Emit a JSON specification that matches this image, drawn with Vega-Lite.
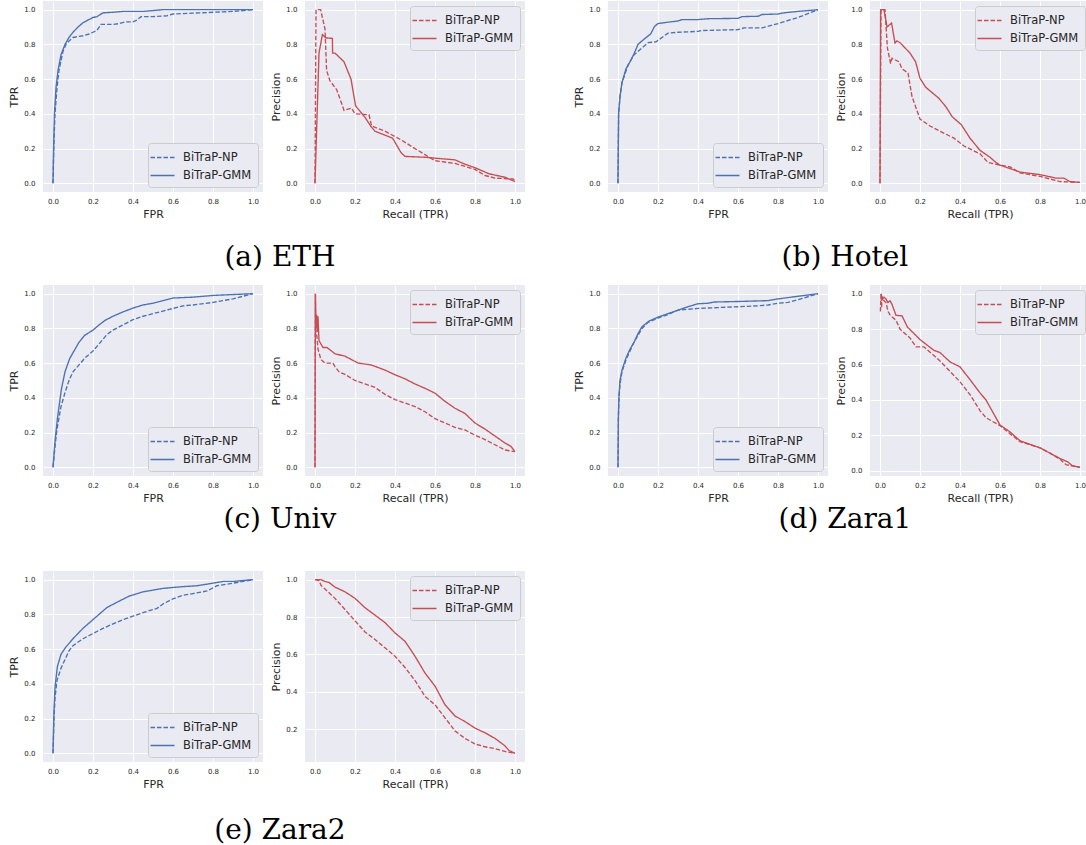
{
"$schema": "https://vega.github.io/schema/vega-lite/v6.json",
"background": "white",
"padding": {"left": 8, "top": 1, "right": 0, "bottom": 0},
"config": {
  "view": {"fill": "#EAEAF2", "stroke": null},
  "axis": {"domain": false, "ticks": false, "grid": true, "gridColor": "#FFFFFF", "gridWidth": 1, "labelFont": "DejaVu Sans", "labelFontSize": 7, "labelColor": "#262626", "titleFont": "DejaVu Sans", "titleFontSize": 11, "titleFontWeight": "normal", "titleColor": "#262626"},
  "axisX": {"labelPadding": 5, "titlePadding": 4},
  "axisY": {"labelPadding": 8, "titlePadding": 4},
  "legend": {"labelFont": "DejaVu Sans", "labelFontSize": 11.5, "labelColor": "#262626", "fillColor": "#EAEAF2", "strokeColor": "#CCCCCC", "cornerRadius": 3, "padding": 6, "offset": 5, "rowPadding": 4, "labelOffset": 12, "symbolStrokeWidth": 1.3},
  "title": {"font": "DejaVu Serif", "fontSize": 28, "fontWeight": "normal", "color": "#000000", "anchor": "middle", "frame": "bounds"},
  "line": {"strokeWidth": 1.35}
},
"datasets": {
"eth_roc": [
{"m":"NP","x":0,"y":0},{"m":"NP","x":0.005,"y":0.25},{"m":"NP","x":0.01,"y":0.4},{"m":"NP","x":0.02,"y":0.55},{"m":"NP","x":0.03,"y":0.65},{"m":"NP","x":0.05,"y":0.76},{"m":"NP","x":0.065,"y":0.8},{"m":"NP","x":0.08,"y":0.82},{"m":"NP","x":0.1,"y":0.84},{"m":"NP","x":0.15,"y":0.85},{"m":"NP","x":0.18,"y":0.86},{"m":"NP","x":0.2,"y":0.87},{"m":"NP","x":0.22,"y":0.88},{"m":"NP","x":0.24,"y":0.915},{"m":"NP","x":0.3,"y":0.915},{"m":"NP","x":0.33,"y":0.92},{"m":"NP","x":0.36,"y":0.93},{"m":"NP","x":0.4,"y":0.93},{"m":"NP","x":0.42,"y":0.94},{"m":"NP","x":0.44,"y":0.96},{"m":"NP","x":0.5,"y":0.96},{"m":"NP","x":0.57,"y":0.965},{"m":"NP","x":0.6,"y":0.975},{"m":"NP","x":0.7,"y":0.98},{"m":"NP","x":0.8,"y":0.985},{"m":"NP","x":0.9,"y":0.99},{"m":"NP","x":1,"y":1},
{"m":"GMM","x":0,"y":0},{"m":"GMM","x":0.003,"y":0.2},{"m":"GMM","x":0.007,"y":0.4},{"m":"GMM","x":0.015,"y":0.55},{"m":"GMM","x":0.025,"y":0.65},{"m":"GMM","x":0.04,"y":0.74},{"m":"GMM","x":0.06,"y":0.8},{"m":"GMM","x":0.08,"y":0.84},{"m":"GMM","x":0.1,"y":0.87},{"m":"GMM","x":0.125,"y":0.9},{"m":"GMM","x":0.15,"y":0.925},{"m":"GMM","x":0.2,"y":0.955},{"m":"GMM","x":0.22,"y":0.96},{"m":"GMM","x":0.25,"y":0.982},{"m":"GMM","x":0.3,"y":0.985},{"m":"GMM","x":0.35,"y":0.99},{"m":"GMM","x":0.45,"y":0.99},{"m":"GMM","x":0.5,"y":0.995},{"m":"GMM","x":0.55,"y":1},{"m":"GMM","x":1,"y":1}
],
"eth_pr": [
{"m":"NP","x":0,"y":0},{"m":"NP","x":0.005,"y":1},{"m":"NP","x":0.028,"y":1},{"m":"NP","x":0.05,"y":0.89},{"m":"NP","x":0.058,"y":0.65},{"m":"NP","x":0.075,"y":0.59},{"m":"NP","x":0.108,"y":0.54},{"m":"NP","x":0.127,"y":0.48},{"m":"NP","x":0.145,"y":0.42},{"m":"NP","x":0.183,"y":0.433},{"m":"NP","x":0.2,"y":0.4},{"m":"NP","x":0.27,"y":0.395},{"m":"NP","x":0.283,"y":0.33},{"m":"NP","x":0.35,"y":0.3},{"m":"NP","x":0.425,"y":0.254},{"m":"NP","x":0.5,"y":0.2},{"m":"NP","x":0.6,"y":0.13},{"m":"NP","x":0.7,"y":0.115},{"m":"NP","x":0.8,"y":0.08},{"m":"NP","x":0.85,"y":0.045},{"m":"NP","x":0.9,"y":0.03},{"m":"NP","x":0.99,"y":0.025},{"m":"NP","x":1,"y":0.015},
{"m":"GMM","x":0,"y":0},{"m":"GMM","x":0.02,"y":0.75},{"m":"GMM","x":0.037,"y":0.856},{"m":"GMM","x":0.055,"y":0.837},{"m":"GMM","x":0.087,"y":0.835},{"m":"GMM","x":0.088,"y":0.75},{"m":"GMM","x":0.1,"y":0.75},{"m":"GMM","x":0.145,"y":0.7},{"m":"GMM","x":0.18,"y":0.6},{"m":"GMM","x":0.203,"y":0.446},{"m":"GMM","x":0.25,"y":0.38},{"m":"GMM","x":0.28,"y":0.327},{"m":"GMM","x":0.3,"y":0.3},{"m":"GMM","x":0.388,"y":0.26},{"m":"GMM","x":0.43,"y":0.177},{"m":"GMM","x":0.45,"y":0.155},{"m":"GMM","x":0.55,"y":0.15},{"m":"GMM","x":0.6,"y":0.145},{"m":"GMM","x":0.7,"y":0.135},{"m":"GMM","x":0.75,"y":0.11},{"m":"GMM","x":0.8,"y":0.09},{"m":"GMM","x":0.87,"y":0.055},{"m":"GMM","x":0.95,"y":0.035},{"m":"GMM","x":1,"y":0.01}
],
"hotel_roc": [
{"m":"NP","x":0,"y":0},{"m":"NP","x":0.003,"y":0.4},{"m":"NP","x":0.01,"y":0.5},{"m":"NP","x":0.02,"y":0.58},{"m":"NP","x":0.05,"y":0.68},{"m":"NP","x":0.08,"y":0.74},{"m":"NP","x":0.12,"y":0.78},{"m":"NP","x":0.15,"y":0.81},{"m":"NP","x":0.19,"y":0.815},{"m":"NP","x":0.25,"y":0.865},{"m":"NP","x":0.3,"y":0.87},{"m":"NP","x":0.4,"y":0.875},{"m":"NP","x":0.42,"y":0.88},{"m":"NP","x":0.6,"y":0.885},{"m":"NP","x":0.63,"y":0.895},{"m":"NP","x":0.72,"y":0.895},{"m":"NP","x":0.8,"y":0.92},{"m":"NP","x":0.9,"y":0.955},{"m":"NP","x":1,"y":1},
{"m":"GMM","x":0,"y":0},{"m":"GMM","x":0.003,"y":0.4},{"m":"GMM","x":0.01,"y":0.5},{"m":"GMM","x":0.02,"y":0.58},{"m":"GMM","x":0.04,"y":0.66},{"m":"GMM","x":0.06,"y":0.7},{"m":"GMM","x":0.08,"y":0.745},{"m":"GMM","x":0.1,"y":0.8},{"m":"GMM","x":0.13,"y":0.83},{"m":"GMM","x":0.163,"y":0.86},{"m":"GMM","x":0.183,"y":0.904},{"m":"GMM","x":0.2,"y":0.92},{"m":"GMM","x":0.25,"y":0.928},{"m":"GMM","x":0.3,"y":0.935},{"m":"GMM","x":0.32,"y":0.943},{"m":"GMM","x":0.4,"y":0.943},{"m":"GMM","x":0.45,"y":0.948},{"m":"GMM","x":0.6,"y":0.95},{"m":"GMM","x":0.62,"y":0.96},{"m":"GMM","x":0.7,"y":0.962},{"m":"GMM","x":0.72,"y":0.972},{"m":"GMM","x":0.8,"y":0.975},{"m":"GMM","x":0.83,"y":0.982},{"m":"GMM","x":0.9,"y":0.99},{"m":"GMM","x":1,"y":1}
],
"hotel_pr": [
{"m":"NP","x":0,"y":0},{"m":"NP","x":0.005,"y":1},{"m":"NP","x":0.025,"y":1},{"m":"NP","x":0.037,"y":0.78},{"m":"NP","x":0.053,"y":0.69},{"m":"NP","x":0.06,"y":0.72},{"m":"NP","x":0.095,"y":0.7},{"m":"NP","x":0.11,"y":0.66},{"m":"NP","x":0.14,"y":0.635},{"m":"NP","x":0.16,"y":0.5},{"m":"NP","x":0.2,"y":0.37},{"m":"NP","x":0.25,"y":0.33},{"m":"NP","x":0.3,"y":0.3},{"m":"NP","x":0.37,"y":0.26},{"m":"NP","x":0.42,"y":0.215},{"m":"NP","x":0.5,"y":0.17},{"m":"NP","x":0.54,"y":0.12},{"m":"NP","x":0.6,"y":0.105},{"m":"NP","x":0.65,"y":0.095},{"m":"NP","x":0.7,"y":0.06},{"m":"NP","x":0.8,"y":0.04},{"m":"NP","x":0.9,"y":0.01},{"m":"NP","x":1,"y":0.005},
{"m":"GMM","x":0,"y":0},{"m":"GMM","x":0.003,"y":1},{"m":"GMM","x":0.02,"y":1},{"m":"GMM","x":0.035,"y":0.9},{"m":"GMM","x":0.058,"y":0.923},{"m":"GMM","x":0.075,"y":0.808},{"m":"GMM","x":0.085,"y":0.82},{"m":"GMM","x":0.1,"y":0.81},{"m":"GMM","x":0.15,"y":0.75},{"m":"GMM","x":0.178,"y":0.7},{"m":"GMM","x":0.2,"y":0.605},{"m":"GMM","x":0.228,"y":0.554},{"m":"GMM","x":0.294,"y":0.49},{"m":"GMM","x":0.33,"y":0.44},{"m":"GMM","x":0.36,"y":0.385},{"m":"GMM","x":0.407,"y":0.337},{"m":"GMM","x":0.45,"y":0.26},{"m":"GMM","x":0.5,"y":0.19},{"m":"GMM","x":0.55,"y":0.15},{"m":"GMM","x":0.58,"y":0.12},{"m":"GMM","x":0.6,"y":0.105},{"m":"GMM","x":0.7,"y":0.065},{"m":"GMM","x":0.8,"y":0.05},{"m":"GMM","x":0.88,"y":0.03},{"m":"GMM","x":0.92,"y":0.03},{"m":"GMM","x":0.95,"y":0.01},{"m":"GMM","x":1,"y":0.005}
],
"univ_roc": [
{"m":"NP","x":0,"y":0},{"m":"NP","x":0.01,"y":0.12},{"m":"NP","x":0.02,"y":0.22},{"m":"NP","x":0.04,"y":0.35},{"m":"NP","x":0.06,"y":0.43},{"m":"NP","x":0.08,"y":0.5},{"m":"NP","x":0.1,"y":0.55},{"m":"NP","x":0.13,"y":0.59},{"m":"NP","x":0.16,"y":0.63},{"m":"NP","x":0.2,"y":0.67},{"m":"NP","x":0.23,"y":0.71},{"m":"NP","x":0.27,"y":0.765},{"m":"NP","x":0.3,"y":0.79},{"m":"NP","x":0.35,"y":0.82},{"m":"NP","x":0.4,"y":0.85},{"m":"NP","x":0.45,"y":0.87},{"m":"NP","x":0.5,"y":0.885},{"m":"NP","x":0.55,"y":0.9},{"m":"NP","x":0.6,"y":0.915},{"m":"NP","x":0.65,"y":0.93},{"m":"NP","x":0.7,"y":0.935},{"m":"NP","x":0.8,"y":0.95},{"m":"NP","x":0.9,"y":0.97},{"m":"NP","x":1,"y":1},
{"m":"GMM","x":0,"y":0},{"m":"GMM","x":0.01,"y":0.15},{"m":"GMM","x":0.022,"y":0.28},{"m":"GMM","x":0.042,"y":0.45},{"m":"GMM","x":0.06,"y":0.55},{"m":"GMM","x":0.083,"y":0.625},{"m":"GMM","x":0.1,"y":0.66},{"m":"GMM","x":0.13,"y":0.72},{"m":"GMM","x":0.158,"y":0.76},{"m":"GMM","x":0.2,"y":0.79},{"m":"GMM","x":0.23,"y":0.82},{"m":"GMM","x":0.26,"y":0.846},{"m":"GMM","x":0.3,"y":0.87},{"m":"GMM","x":0.35,"y":0.895},{"m":"GMM","x":0.4,"y":0.917},{"m":"GMM","x":0.45,"y":0.935},{"m":"GMM","x":0.5,"y":0.945},{"m":"GMM","x":0.55,"y":0.96},{"m":"GMM","x":0.6,"y":0.975},{"m":"GMM","x":0.7,"y":0.98},{"m":"GMM","x":0.8,"y":0.99},{"m":"GMM","x":0.9,"y":0.995},{"m":"GMM","x":1,"y":1}
],
"univ_pr": [
{"m":"NP","x":0,"y":0},{"m":"NP","x":0.002,"y":1},{"m":"NP","x":0.003,"y":0.8},{"m":"NP","x":0.01,"y":0.75},{"m":"NP","x":0.015,"y":0.68},{"m":"NP","x":0.03,"y":0.62},{"m":"NP","x":0.05,"y":0.6},{"m":"NP","x":0.07,"y":0.6},{"m":"NP","x":0.09,"y":0.6},{"m":"NP","x":0.1,"y":0.58},{"m":"NP","x":0.12,"y":0.55},{"m":"NP","x":0.15,"y":0.535},{"m":"NP","x":0.2,"y":0.5},{"m":"NP","x":0.25,"y":0.48},{"m":"NP","x":0.3,"y":0.46},{"m":"NP","x":0.35,"y":0.42},{"m":"NP","x":0.4,"y":0.39},{"m":"NP","x":0.45,"y":0.37},{"m":"NP","x":0.5,"y":0.35},{"m":"NP","x":0.55,"y":0.32},{"m":"NP","x":0.6,"y":0.28},{"m":"NP","x":0.65,"y":0.255},{"m":"NP","x":0.7,"y":0.23},{"m":"NP","x":0.75,"y":0.215},{"m":"NP","x":0.8,"y":0.185},{"m":"NP","x":0.85,"y":0.16},{"m":"NP","x":0.9,"y":0.13},{"m":"NP","x":0.95,"y":0.1},{"m":"NP","x":1,"y":0.09},
{"m":"GMM","x":0,"y":0},{"m":"GMM","x":0.002,"y":1},{"m":"GMM","x":0.005,"y":0.8},{"m":"GMM","x":0.008,"y":0.88},{"m":"GMM","x":0.012,"y":0.78},{"m":"GMM","x":0.015,"y":0.87},{"m":"GMM","x":0.02,"y":0.73},{"m":"GMM","x":0.04,"y":0.69},{"m":"GMM","x":0.06,"y":0.69},{"m":"GMM","x":0.1,"y":0.654},{"m":"GMM","x":0.15,"y":0.64},{"m":"GMM","x":0.2,"y":0.61},{"m":"GMM","x":0.217,"y":0.6},{"m":"GMM","x":0.28,"y":0.59},{"m":"GMM","x":0.35,"y":0.56},{"m":"GMM","x":0.4,"y":0.533},{"m":"GMM","x":0.45,"y":0.51},{"m":"GMM","x":0.5,"y":0.48},{"m":"GMM","x":0.55,"y":0.455},{"m":"GMM","x":0.6,"y":0.427},{"m":"GMM","x":0.65,"y":0.38},{"m":"GMM","x":0.7,"y":0.34},{"m":"GMM","x":0.75,"y":0.31},{"m":"GMM","x":0.8,"y":0.255},{"m":"GMM","x":0.85,"y":0.22},{"m":"GMM","x":0.9,"y":0.18},{"m":"GMM","x":0.95,"y":0.14},{"m":"GMM","x":0.98,"y":0.12},{"m":"GMM","x":1,"y":0.09}
],
"zara1_roc": [
{"m":"NP","x":0,"y":0},{"m":"NP","x":0.002,"y":0.28},{"m":"NP","x":0.005,"y":0.4},{"m":"NP","x":0.01,"y":0.48},{"m":"NP","x":0.02,"y":0.55},{"m":"NP","x":0.04,"y":0.62},{"m":"NP","x":0.06,"y":0.67},{"m":"NP","x":0.08,"y":0.72},{"m":"NP","x":0.1,"y":0.76},{"m":"NP","x":0.12,"y":0.8},{"m":"NP","x":0.15,"y":0.835},{"m":"NP","x":0.2,"y":0.86},{"m":"NP","x":0.25,"y":0.88},{"m":"NP","x":0.3,"y":0.905},{"m":"NP","x":0.35,"y":0.91},{"m":"NP","x":0.4,"y":0.915},{"m":"NP","x":0.5,"y":0.92},{"m":"NP","x":0.6,"y":0.925},{"m":"NP","x":0.7,"y":0.93},{"m":"NP","x":0.75,"y":0.935},{"m":"NP","x":0.8,"y":0.945},{"m":"NP","x":0.85,"y":0.95},{"m":"NP","x":0.9,"y":0.965},{"m":"NP","x":1,"y":1},
{"m":"GMM","x":0,"y":0},{"m":"GMM","x":0.002,"y":0.3},{"m":"GMM","x":0.005,"y":0.42},{"m":"GMM","x":0.01,"y":0.5},{"m":"GMM","x":0.02,"y":0.56},{"m":"GMM","x":0.04,"y":0.63},{"m":"GMM","x":0.06,"y":0.68},{"m":"GMM","x":0.08,"y":0.72},{"m":"GMM","x":0.1,"y":0.77},{"m":"GMM","x":0.12,"y":0.81},{"m":"GMM","x":0.155,"y":0.842},{"m":"GMM","x":0.2,"y":0.865},{"m":"GMM","x":0.25,"y":0.885},{"m":"GMM","x":0.3,"y":0.905},{"m":"GMM","x":0.35,"y":0.925},{"m":"GMM","x":0.4,"y":0.942},{"m":"GMM","x":0.45,"y":0.945},{"m":"GMM","x":0.48,"y":0.952},{"m":"GMM","x":0.6,"y":0.955},{"m":"GMM","x":0.75,"y":0.96},{"m":"GMM","x":0.8,"y":0.97},{"m":"GMM","x":0.9,"y":0.985},{"m":"GMM","x":1,"y":1}
],
"zara1_pr": [
{"m":"NP","x":0.002,"y":0.9},{"m":"NP","x":0.005,"y":1},{"m":"NP","x":0.008,"y":0.92},{"m":"NP","x":0.01,"y":0.98},{"m":"NP","x":0.02,"y":0.96},{"m":"NP","x":0.03,"y":0.95},{"m":"NP","x":0.04,"y":0.9},{"m":"NP","x":0.05,"y":0.88},{"m":"NP","x":0.08,"y":0.85},{"m":"NP","x":0.1,"y":0.8},{"m":"NP","x":0.15,"y":0.75},{"m":"NP","x":0.18,"y":0.7},{"m":"NP","x":0.22,"y":0.7},{"m":"NP","x":0.3,"y":0.62},{"m":"NP","x":0.4,"y":0.503},{"m":"NP","x":0.45,"y":0.43},{"m":"NP","x":0.5,"y":0.34},{"m":"NP","x":0.53,"y":0.3},{"m":"NP","x":0.6,"y":0.255},{"m":"NP","x":0.65,"y":0.21},{"m":"NP","x":0.7,"y":0.165},{"m":"NP","x":0.8,"y":0.13},{"m":"NP","x":0.85,"y":0.1},{"m":"NP","x":0.9,"y":0.065},{"m":"NP","x":0.93,"y":0.035},{"m":"NP","x":0.95,"y":0.03},{"m":"NP","x":1,"y":0.02},
{"m":"GMM","x":0.005,"y":1},{"m":"GMM","x":0.013,"y":0.97},{"m":"GMM","x":0.02,"y":0.98},{"m":"GMM","x":0.03,"y":0.97},{"m":"GMM","x":0.04,"y":0.95},{"m":"GMM","x":0.05,"y":0.96},{"m":"GMM","x":0.06,"y":0.94},{"m":"GMM","x":0.08,"y":0.878},{"m":"GMM","x":0.11,"y":0.875},{"m":"GMM","x":0.137,"y":0.812},{"m":"GMM","x":0.2,"y":0.741},{"m":"GMM","x":0.27,"y":0.68},{"m":"GMM","x":0.3,"y":0.668},{"m":"GMM","x":0.35,"y":0.615},{"m":"GMM","x":0.4,"y":0.587},{"m":"GMM","x":0.45,"y":0.515},{"m":"GMM","x":0.5,"y":0.44},{"m":"GMM","x":0.53,"y":0.4},{"m":"GMM","x":0.6,"y":0.259},{"m":"GMM","x":0.65,"y":0.22},{"m":"GMM","x":0.7,"y":0.17},{"m":"GMM","x":0.8,"y":0.13},{"m":"GMM","x":0.85,"y":0.1},{"m":"GMM","x":0.9,"y":0.07},{"m":"GMM","x":0.94,"y":0.05},{"m":"GMM","x":0.96,"y":0.03},{"m":"GMM","x":1,"y":0.02}
],
"zara2_roc": [
{"m":"NP","x":0,"y":0},{"m":"NP","x":0.005,"y":0.2},{"m":"NP","x":0.01,"y":0.32},{"m":"NP","x":0.02,"y":0.42},{"m":"NP","x":0.04,"y":0.49},{"m":"NP","x":0.06,"y":0.54},{"m":"NP","x":0.08,"y":0.59},{"m":"NP","x":0.1,"y":0.62},{"m":"NP","x":0.15,"y":0.66},{"m":"NP","x":0.2,"y":0.69},{"m":"NP","x":0.25,"y":0.72},{"m":"NP","x":0.3,"y":0.745},{"m":"NP","x":0.35,"y":0.77},{"m":"NP","x":0.4,"y":0.79},{"m":"NP","x":0.45,"y":0.81},{"m":"NP","x":0.52,"y":0.835},{"m":"NP","x":0.55,"y":0.86},{"m":"NP","x":0.6,"y":0.89},{"m":"NP","x":0.65,"y":0.91},{"m":"NP","x":0.7,"y":0.92},{"m":"NP","x":0.77,"y":0.935},{"m":"NP","x":0.82,"y":0.965},{"m":"NP","x":0.9,"y":0.98},{"m":"NP","x":1,"y":1},
{"m":"GMM","x":0,"y":0},{"m":"GMM","x":0.005,"y":0.25},{"m":"GMM","x":0.01,"y":0.38},{"m":"GMM","x":0.022,"y":0.5},{"m":"GMM","x":0.04,"y":0.57},{"m":"GMM","x":0.063,"y":0.61},{"m":"GMM","x":0.1,"y":0.66},{"m":"GMM","x":0.15,"y":0.72},{"m":"GMM","x":0.2,"y":0.77},{"m":"GMM","x":0.27,"y":0.84},{"m":"GMM","x":0.32,"y":0.87},{"m":"GMM","x":0.38,"y":0.905},{"m":"GMM","x":0.45,"y":0.93},{"m":"GMM","x":0.5,"y":0.94},{"m":"GMM","x":0.55,"y":0.95},{"m":"GMM","x":0.65,"y":0.96},{"m":"GMM","x":0.72,"y":0.965},{"m":"GMM","x":0.8,"y":0.98},{"m":"GMM","x":0.85,"y":0.99},{"m":"GMM","x":0.9,"y":0.99},{"m":"GMM","x":1,"y":1}
],
"zara2_pr": [
{"m":"NP","x":0,"y":1},{"m":"NP","x":0.02,"y":0.995},{"m":"NP","x":0.03,"y":0.97},{"m":"NP","x":0.05,"y":0.95},{"m":"NP","x":0.1,"y":0.9},{"m":"NP","x":0.15,"y":0.84},{"m":"NP","x":0.2,"y":0.78},{"m":"NP","x":0.25,"y":0.72},{"m":"NP","x":0.3,"y":0.68},{"m":"NP","x":0.35,"y":0.635},{"m":"NP","x":0.4,"y":0.59},{"m":"NP","x":0.45,"y":0.53},{"m":"NP","x":0.5,"y":0.46},{"m":"NP","x":0.55,"y":0.375},{"m":"NP","x":0.6,"y":0.33},{"m":"NP","x":0.65,"y":0.26},{"m":"NP","x":0.7,"y":0.19},{"m":"NP","x":0.75,"y":0.15},{"m":"NP","x":0.8,"y":0.12},{"m":"NP","x":0.85,"y":0.105},{"m":"NP","x":0.9,"y":0.095},{"m":"NP","x":0.95,"y":0.08},{"m":"NP","x":1,"y":0.07},
{"m":"GMM","x":0,"y":1},{"m":"GMM","x":0.03,"y":1},{"m":"GMM","x":0.05,"y":0.99},{"m":"GMM","x":0.07,"y":0.985},{"m":"GMM","x":0.1,"y":0.96},{"m":"GMM","x":0.15,"y":0.935},{"m":"GMM","x":0.2,"y":0.9},{"m":"GMM","x":0.25,"y":0.85},{"m":"GMM","x":0.3,"y":0.81},{"m":"GMM","x":0.35,"y":0.77},{"m":"GMM","x":0.4,"y":0.715},{"m":"GMM","x":0.45,"y":0.67},{"m":"GMM","x":0.5,"y":0.59},{"m":"GMM","x":0.55,"y":0.5},{"m":"GMM","x":0.6,"y":0.43},{"m":"GMM","x":0.65,"y":0.33},{"m":"GMM","x":0.7,"y":0.27},{"m":"GMM","x":0.75,"y":0.24},{"m":"GMM","x":0.8,"y":0.205},{"m":"GMM","x":0.85,"y":0.18},{"m":"GMM","x":0.9,"y":0.15},{"m":"GMM","x":0.95,"y":0.11},{"m":"GMM","x":0.97,"y":0.085},{"m":"GMM","x":1,"y":0.07}
]
},
"resolve": {"scale": {"strokeDash": "independent"}, "legend": {"strokeDash": "independent"}},
"spacing": 37,
"vconcat": [
{
"resolve": {"scale": {"strokeDash": "independent"}, "legend": {"strokeDash": "independent"}},
"spacing": 13,
"vconcat": [
{
"resolve": {"scale": {"strokeDash": "independent"}, "legend": {"strokeDash": "independent"}},
"spacing": 48,
"hconcat": [
{
"title": {"text": "(a) ETH", "orient": "bottom", "offset": 25, "dx": 13},
"resolve": {"scale": {"strokeDash": "independent"}, "legend": {"strokeDash": "independent"}},
"spacing": 7,
"hconcat": [
{"width": 220, "height": 191, "data": {"name": "eth_roc"}, "mark": {"type": "line", "color": "#4C72B0"},
"encoding": {"x": {"field": "x", "type": "quantitative", "scale": {"domain": [-0.05, 1.05], "nice": false, "zero": false}, "axis": {"title": "FPR", "values": [0, 0.2, 0.4, 0.6, 0.8, 1], "format": ".1f"}},
"y": {"field": "y", "type": "quantitative", "scale": {"domain": [-0.05, 1.05], "nice": false, "zero": false}, "axis": {"title": "TPR", "values": [0, 0.2, 0.4, 0.6, 0.8, 1], "format": ".1f"}},
"strokeDash": {"field": "m", "type": "nominal", "scale": {"domain": ["NP", "GMM"], "range": [[4.5, 2], [1, 0]]}, "legend": {"title": null, "orient": "bottom-right", "symbolType": "M-1.6,0H1.6", "symbolSize": 225, "symbolStrokeColor": "#4C72B0", "labelExpr": "'BiTraP-' + datum.label"}},
"order": {"value": null}}},
{"width": 220, "height": 191, "data": {"name": "eth_pr"}, "mark": {"type": "line", "color": "#C44E52"},
"encoding": {"x": {"field": "x", "type": "quantitative", "scale": {"domain": [-0.05, 1.05], "nice": false, "zero": false}, "axis": {"title": "Recall (TPR)", "values": [0, 0.2, 0.4, 0.6, 0.8, 1], "format": ".1f"}},
"y": {"field": "y", "type": "quantitative", "scale": {"domain": [-0.05, 1.05], "nice": false, "zero": false}, "axis": {"title": "Precision", "values": [0, 0.2, 0.4, 0.6, 0.8, 1], "format": ".1f"}},
"strokeDash": {"field": "m", "type": "nominal", "scale": {"domain": ["NP", "GMM"], "range": [[4.5, 2], [1, 0]]}, "legend": {"title": null, "orient": "top-right", "symbolType": "M-1.6,0H1.6", "symbolSize": 225, "symbolStrokeColor": "#C44E52", "labelExpr": "'BiTraP-' + datum.label"}},
"order": {"value": null}}}
]
},
{
"title": {"text": "(b) Hotel", "orient": "bottom", "offset": 25, "dx": 13},
"resolve": {"scale": {"strokeDash": "independent"}, "legend": {"strokeDash": "independent"}},
"spacing": 7,
"hconcat": [
{"width": 220, "height": 191, "data": {"name": "hotel_roc"}, "mark": {"type": "line", "color": "#4C72B0"},
"encoding": {"x": {"field": "x", "type": "quantitative", "scale": {"domain": [-0.05, 1.05], "nice": false, "zero": false}, "axis": {"title": "FPR", "values": [0, 0.2, 0.4, 0.6, 0.8, 1], "format": ".1f"}},
"y": {"field": "y", "type": "quantitative", "scale": {"domain": [-0.05, 1.05], "nice": false, "zero": false}, "axis": {"title": "TPR", "values": [0, 0.2, 0.4, 0.6, 0.8, 1], "format": ".1f"}},
"strokeDash": {"field": "m", "type": "nominal", "scale": {"domain": ["NP", "GMM"], "range": [[4.5, 2], [1, 0]]}, "legend": {"title": null, "orient": "bottom-right", "symbolType": "M-1.6,0H1.6", "symbolSize": 225, "symbolStrokeColor": "#4C72B0", "labelExpr": "'BiTraP-' + datum.label"}},
"order": {"value": null}}},
{"width": 220, "height": 191, "data": {"name": "hotel_pr"}, "mark": {"type": "line", "color": "#C44E52"},
"encoding": {"x": {"field": "x", "type": "quantitative", "scale": {"domain": [-0.05, 1.05], "nice": false, "zero": false}, "axis": {"title": "Recall (TPR)", "values": [0, 0.2, 0.4, 0.6, 0.8, 1], "format": ".1f"}},
"y": {"field": "y", "type": "quantitative", "scale": {"domain": [-0.05, 1.05], "nice": false, "zero": false}, "axis": {"title": "Precision", "values": [0, 0.2, 0.4, 0.6, 0.8, 1], "format": ".1f"}},
"strokeDash": {"field": "m", "type": "nominal", "scale": {"domain": ["NP", "GMM"], "range": [[4.5, 2], [1, 0]]}, "legend": {"title": null, "orient": "top-right", "symbolType": "M-1.6,0H1.6", "symbolSize": 225, "symbolStrokeColor": "#C44E52", "labelExpr": "'BiTraP-' + datum.label"}},
"order": {"value": null}}}
]
}
]
},
{
"resolve": {"scale": {"strokeDash": "independent"}, "legend": {"strokeDash": "independent"}},
"spacing": 48,
"hconcat": [
{
"title": {"text": "(c) Univ", "orient": "bottom", "offset": 3, "dx": 13},
"resolve": {"scale": {"strokeDash": "independent"}, "legend": {"strokeDash": "independent"}},
"spacing": 7,
"hconcat": [
{"width": 220, "height": 191, "data": {"name": "univ_roc"}, "mark": {"type": "line", "color": "#4C72B0"},
"encoding": {"x": {"field": "x", "type": "quantitative", "scale": {"domain": [-0.05, 1.05], "nice": false, "zero": false}, "axis": {"title": "FPR", "values": [0, 0.2, 0.4, 0.6, 0.8, 1], "format": ".1f"}},
"y": {"field": "y", "type": "quantitative", "scale": {"domain": [-0.05, 1.05], "nice": false, "zero": false}, "axis": {"title": "TPR", "values": [0, 0.2, 0.4, 0.6, 0.8, 1], "format": ".1f"}},
"strokeDash": {"field": "m", "type": "nominal", "scale": {"domain": ["NP", "GMM"], "range": [[4.5, 2], [1, 0]]}, "legend": {"title": null, "orient": "bottom-right", "symbolType": "M-1.6,0H1.6", "symbolSize": 225, "symbolStrokeColor": "#4C72B0", "labelExpr": "'BiTraP-' + datum.label"}},
"order": {"value": null}}},
{"width": 220, "height": 191, "data": {"name": "univ_pr"}, "mark": {"type": "line", "color": "#C44E52"},
"encoding": {"x": {"field": "x", "type": "quantitative", "scale": {"domain": [-0.05, 1.05], "nice": false, "zero": false}, "axis": {"title": "Recall (TPR)", "values": [0, 0.2, 0.4, 0.6, 0.8, 1], "format": ".1f"}},
"y": {"field": "y", "type": "quantitative", "scale": {"domain": [-0.05, 1.05], "nice": false, "zero": false}, "axis": {"title": "Precision", "values": [0, 0.2, 0.4, 0.6, 0.8, 1], "format": ".1f"}},
"strokeDash": {"field": "m", "type": "nominal", "scale": {"domain": ["NP", "GMM"], "range": [[4.5, 2], [1, 0]]}, "legend": {"title": null, "orient": "top-right", "symbolType": "M-1.6,0H1.6", "symbolSize": 225, "symbolStrokeColor": "#C44E52", "labelExpr": "'BiTraP-' + datum.label"}},
"order": {"value": null}}}
]
},
{
"title": {"text": "(d) Zara1", "orient": "bottom", "offset": 3, "dx": 13},
"resolve": {"scale": {"strokeDash": "independent"}, "legend": {"strokeDash": "independent"}},
"spacing": 7,
"hconcat": [
{"width": 220, "height": 191, "data": {"name": "zara1_roc"}, "mark": {"type": "line", "color": "#4C72B0"},
"encoding": {"x": {"field": "x", "type": "quantitative", "scale": {"domain": [-0.05, 1.05], "nice": false, "zero": false}, "axis": {"title": "FPR", "values": [0, 0.2, 0.4, 0.6, 0.8, 1], "format": ".1f"}},
"y": {"field": "y", "type": "quantitative", "scale": {"domain": [-0.05, 1.05], "nice": false, "zero": false}, "axis": {"title": "TPR", "values": [0, 0.2, 0.4, 0.6, 0.8, 1], "format": ".1f"}},
"strokeDash": {"field": "m", "type": "nominal", "scale": {"domain": ["NP", "GMM"], "range": [[4.5, 2], [1, 0]]}, "legend": {"title": null, "orient": "bottom-right", "symbolType": "M-1.6,0H1.6", "symbolSize": 225, "symbolStrokeColor": "#4C72B0", "labelExpr": "'BiTraP-' + datum.label"}},
"order": {"value": null}}},
{"width": 220, "height": 191, "data": {"name": "zara1_pr"}, "mark": {"type": "line", "color": "#C44E52"},
"encoding": {"x": {"field": "x", "type": "quantitative", "scale": {"domain": [-0.05, 1.05], "nice": false, "zero": false}, "axis": {"title": "Recall (TPR)", "values": [0, 0.2, 0.4, 0.6, 0.8, 1], "format": ".1f"}},
"y": {"field": "y", "type": "quantitative", "scale": {"domain": [-0.029, 1.049], "nice": false, "zero": false}, "axis": {"title": "Precision", "values": [0, 0.2, 0.4, 0.6, 0.8, 1], "format": ".1f"}},
"strokeDash": {"field": "m", "type": "nominal", "scale": {"domain": ["NP", "GMM"], "range": [[4.5, 2], [1, 0]]}, "legend": {"title": null, "orient": "top-right", "symbolType": "M-1.6,0H1.6", "symbolSize": 225, "symbolStrokeColor": "#C44E52", "labelExpr": "'BiTraP-' + datum.label"}},
"order": {"value": null}}}
]
}
]
}
]
},
{
"title": {"text": "(e) Zara2", "orient": "bottom", "offset": 28, "dx": 13},
"resolve": {"scale": {"strokeDash": "independent"}, "legend": {"strokeDash": "independent"}},
"spacing": 7,
"hconcat": [
{"width": 220, "height": 191, "data": {"name": "zara2_roc"}, "mark": {"type": "line", "color": "#4C72B0"},
"encoding": {"x": {"field": "x", "type": "quantitative", "scale": {"domain": [-0.05, 1.05], "nice": false, "zero": false}, "axis": {"title": "FPR", "values": [0, 0.2, 0.4, 0.6, 0.8, 1], "format": ".1f"}},
"y": {"field": "y", "type": "quantitative", "scale": {"domain": [-0.05, 1.05], "nice": false, "zero": false}, "axis": {"title": "TPR", "values": [0, 0.2, 0.4, 0.6, 0.8, 1], "format": ".1f"}},
"strokeDash": {"field": "m", "type": "nominal", "scale": {"domain": ["NP", "GMM"], "range": [[4.5, 2], [1, 0]]}, "legend": {"title": null, "orient": "bottom-right", "symbolType": "M-1.6,0H1.6", "symbolSize": 225, "symbolStrokeColor": "#4C72B0", "labelExpr": "'BiTraP-' + datum.label"}},
"order": {"value": null}}},
{"width": 220, "height": 191, "data": {"name": "zara2_pr"}, "mark": {"type": "line", "color": "#C44E52"},
"encoding": {"x": {"field": "x", "type": "quantitative", "scale": {"domain": [-0.05, 1.05], "nice": false, "zero": false}, "axis": {"title": "Recall (TPR)", "values": [0, 0.2, 0.4, 0.6, 0.8, 1], "format": ".1f"}},
"y": {"field": "y", "type": "quantitative", "scale": {"domain": [0.0235, 1.0465], "nice": false, "zero": false}, "axis": {"title": "Precision", "values": [0.2, 0.4, 0.6, 0.8, 1], "format": ".1f"}},
"strokeDash": {"field": "m", "type": "nominal", "scale": {"domain": ["NP", "GMM"], "range": [[4.5, 2], [1, 0]]}, "legend": {"title": null, "orient": "top-right", "symbolType": "M-1.6,0H1.6", "symbolSize": 225, "symbolStrokeColor": "#C44E52", "labelExpr": "'BiTraP-' + datum.label"}},
"order": {"value": null}}}
]
}
]
}
